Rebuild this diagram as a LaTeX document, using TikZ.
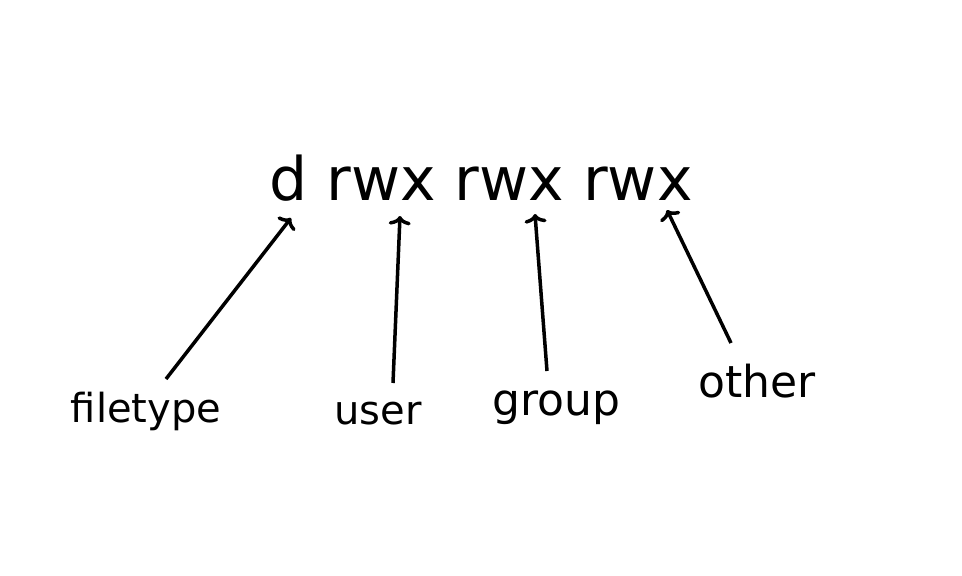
\documentclass[tikz,border=0pt]{standalone}
\usepackage{fontspec}
\setmainfont{DejaVu Sans}
\usetikzlibrary{arrows.meta}
\begin{document}
\begin{tikzpicture}[x=1pt,y=-1pt,
  lbl/.style={inner sep=0pt,anchor=center},
  arr/.style={line width=3.5pt,-{To[length=9pt,width=22pt,line width=3.5pt]}}]
\useasboundingbox (0,0) rectangle (962,576);
\node[lbl] (perm) at (481,178) {\fontsize{60}{60}\selectfont d rwx rwx rwx};
\node[lbl] (ft) at (146,411) {\fontsize{40}{40}\selectfont filetype};
\node[lbl] (us) at (378,414) {\fontsize{40}{40}\selectfont user};
\node[lbl] (gr) at (556,408) {\fontsize{44}{44}\selectfont group};
\node[lbl] (ot) at (757,381) {\fontsize{44}{44}\selectfont other};
\coordinate (ft0) at (166,379); \coordinate (ft1) at (291,218);
\coordinate (us0) at (393,383); \coordinate (us1) at (400,216);
\coordinate (gr0) at (547,371); \coordinate (gr1) at (535,214);
\coordinate (ot0) at (731,343); \coordinate (ot1) at (667,210);
\draw[arr] (ft0) -- (ft1);
\draw[arr] (us0) -- (us1);
\draw[arr] (gr0) -- (gr1);
\draw[arr] (ot0) -- (ot1);
\end{tikzpicture}
\end{document}
